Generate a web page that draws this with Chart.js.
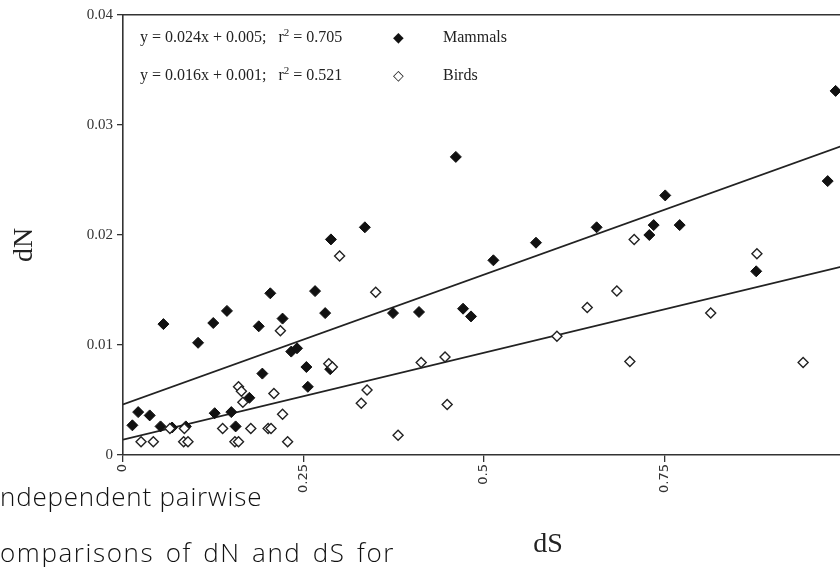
<!DOCTYPE html>
<html>
<head>
<meta charset="utf-8">
<script src="https://cdn.jsdelivr.net/npm/chart.js@4/dist/chart.umd.min.js"></script>
<style>
    html, body { margin: 0; padding: 0; overflow: hidden; background: #fff; }
    #wrap { position: absolute; left: 0; top: 0; width: 870px; height: 567px; }
    .legend { position: absolute; font-family: "Liberation Serif", serif; font-size: 16px; color: #222; line-height: 18px; white-space: nowrap; }
    .legend sup { font-size: 11px; vertical-align: 6px; line-height: 0; }
    .mark { position: absolute; font-family: "DejaVu Sans", sans-serif; font-size: 14px; color: #111; line-height: 18px; }
    .caption { position: absolute; left: 0; font-family: "Open Sans", sans-serif; font-weight: 300; font-size: 26px; color: #111; white-space: nowrap; line-height: 28px; }
</style>
</head>
<body>
<div id="wrap"><canvas id="chart"></canvas></div>

<div class="legend" style="left:140px; top:28px;">y = 0.024x + 0.005;&nbsp;&nbsp; r<sup>2</sup> = 0.705</div>
<div class="mark" style="left:393px; top:28px;">◆</div>
<div class="legend" style="left:443px; top:28px;">Mammals</div>
<div class="legend" style="left:140px; top:66px;">y = 0.016x + 0.001;&nbsp;&nbsp; r<sup>2</sup> = 0.521</div>
<div class="mark" style="left:393px; top:66px;">◇</div>
<div class="legend" style="left:443px; top:66px;">Birds</div>

<div class="caption" style="top:482px; letter-spacing:0.8px;">ndependent pairwise</div>
<div class="caption" style="top:538px; letter-spacing:1.6px; word-spacing:3px;">omparisons of dN and dS for</div>

<script>
// Mammals (filled diamonds)
const mammalDS = [0.013, 0.021, 0.037, 0.056, 0.052, 0.068, 0.087, 0.104, 0.125, 0.127, 0.144, 0.150, 0.156, 0.175,
    0.188, 0.193, 0.204, 0.221, 0.233, 0.241, 0.254, 0.256, 0.266, 0.280, 0.288, 0.287, 0.335, 0.374, 0.410, 0.461,
    0.471, 0.482, 0.513, 0.572, 0.656, 0.729, 0.735, 0.751, 0.771, 0.877, 0.976, 0.987];
const mammalDN = [0.0027, 0.0039, 0.0036, 0.0119, 0.0026, 0.0025, 0.0026, 0.0102, 0.0120, 0.0038, 0.0131, 0.0039, 0.0026, 0.0052,
    0.0117, 0.0074, 0.0147, 0.0124, 0.0094, 0.0097, 0.0080, 0.0062, 0.0149, 0.0129, 0.0196, 0.0078, 0.0207, 0.0129, 0.0130, 0.0271,
    0.0133, 0.0126, 0.0177, 0.0193, 0.0207, 0.0200, 0.0209, 0.0236, 0.0209, 0.0167, 0.0249, 0.0331];

// Birds (open diamonds)
const birdDS = [0.025, 0.042, 0.065, 0.084, 0.090, 0.085, 0.138, 0.155, 0.160, 0.160, 0.164, 0.166, 0.177, 0.201,
    0.205, 0.209, 0.221, 0.218, 0.228, 0.285, 0.290, 0.300, 0.330, 0.338, 0.350, 0.381, 0.413, 0.446, 0.449, 0.601,
    0.643, 0.684, 0.702, 0.708, 0.814, 0.878, 0.942];
const birdDN = [0.0012, 0.0012, 0.0024, 0.0012, 0.0012, 0.0024, 0.0024, 0.0012, 0.0012, 0.0062, 0.0058, 0.0048, 0.0024, 0.0024,
    0.0024, 0.0056, 0.0037, 0.0113, 0.0012, 0.0083, 0.0080, 0.0181, 0.0047, 0.0059, 0.0148, 0.0018, 0.0084, 0.0089, 0.0046, 0.0108,
    0.0134, 0.0149, 0.0085, 0.0196, 0.0129, 0.0183, 0.0084];

// regression lines, end points
const fitDS = [0, 1];
const mammalFitDN = [0.0046, 0.0282];
const birdFitDN = [0.0014, 0.0172];

// axes (the 1 tick is cut off in the original)
const xTicks = [0, 0.25, 0.5, 0.75];
const yTicks = [0, 0.01, 0.02, 0.03, 0.04];
const xTitle = 'dS';
const yTitle = 'dN';

const toPoints = (xs, ys) => xs.map((x, i) => ({ x: x, y: ys[i] }));

// axis titles sit off-centre in the original, so draw them by hand
const axisTitles = {
    id: 'axisTitles',
    afterDraw(chart) {
        const { ctx, chartArea } = chart;
        ctx.save();
        ctx.fillStyle = '#222';
        ctx.font = '28px "Liberation Serif", serif';
        ctx.textAlign = 'center';
        ctx.textBaseline = 'middle';
        ctx.fillText(xTitle, chartArea.left + 425, chartArea.bottom + 90);
        ctx.translate(chartArea.left - 98, (chartArea.top + chartArea.bottom) / 2 + 10);
        ctx.rotate(-Math.PI / 2);
        ctx.fillText(yTitle, 0, 0);
        ctx.restore();
    }
};

const axisColor = '#333';

new Chart(document.getElementById('chart').getContext('2d'), {
    type: 'scatter',
    data: {
        datasets: [
            {
                label: 'Mammals',
                data: toPoints(mammalDS, mammalDN),
                pointStyle: 'rectRot',
                pointRadius: 5.5,
                backgroundColor: '#111',
                borderColor: '#111',
                borderWidth: 1,
                order: 1
            },
            {
                label: 'Birds',
                data: toPoints(birdDS, birdDN),
                pointStyle: 'rectRot',
                pointRadius: 5,
                backgroundColor: '#fff',
                borderColor: '#222',
                borderWidth: 1.4,
                order: 0
            },
            {
                label: 'Mammals fit',
                data: toPoints(fitDS, mammalFitDN),
                showLine: true,
                pointRadius: 0,
                borderColor: '#222',
                borderWidth: 1.8,
                order: 2
            },
            {
                label: 'Birds fit',
                data: toPoints(fitDS, birdFitDN),
                showLine: true,
                pointRadius: 0,
                borderColor: '#222',
                borderWidth: 1.8,
                order: 2
            }
        ]
    },
    options: {
        responsive: true,
        maintainAspectRatio: false,
        animation: false,
        layout: { padding: { left: 0, right: 25, top: 15, bottom: 0 } },
        plugins: {
            legend: { display: false },
            tooltip: { enabled: false }
        },
        scales: {
            x: {
                type: 'linear',
                min: 0,
                max: 1,
                afterBuildTicks: scale => { scale.ticks = xTicks.map(v => ({ value: v })); },
                afterFit: scale => { scale.height = 112; },
                grid: { display: true, drawOnChartArea: false, drawTicks: true, tickLength: 7, color: axisColor, lineWidth: 1.3 },
                border: { display: true, color: axisColor, width: 1.6 },
                ticks: {
                    autoSkip: false,
                    minRotation: 90,
                    maxRotation: 90,
                    padding: 2,
                    color: '#333',
                    font: { family: '"DejaVu Sans", sans-serif', size: 13 },
                    callback: value => String(value)
                }
            },
            x2: {
                type: 'linear',
                position: 'top',
                min: 0,
                max: 1,
                afterFit: scale => { scale.height = 0; },
                grid: { display: false },
                border: { display: true, color: axisColor, width: 1.6 },
                ticks: { display: false }
            },
            y: {
                min: 0,
                max: 0.04,
                afterBuildTicks: scale => { scale.ticks = yTicks.map(v => ({ value: v })); },
                afterFit: scale => { scale.width = 123; },
                grid: { display: true, drawOnChartArea: false, drawTicks: true, tickLength: 6, color: axisColor, lineWidth: 1.3 },
                border: { display: true, color: axisColor, width: 1.6 },
                ticks: {
                    padding: 4,
                    color: '#333',
                    font: { family: '"Liberation Serif", serif', size: 15 },
                    callback: value => String(value)
                }
            }
        }
    },
    plugins: [axisTitles]
});
</script>
</body>
</html>
